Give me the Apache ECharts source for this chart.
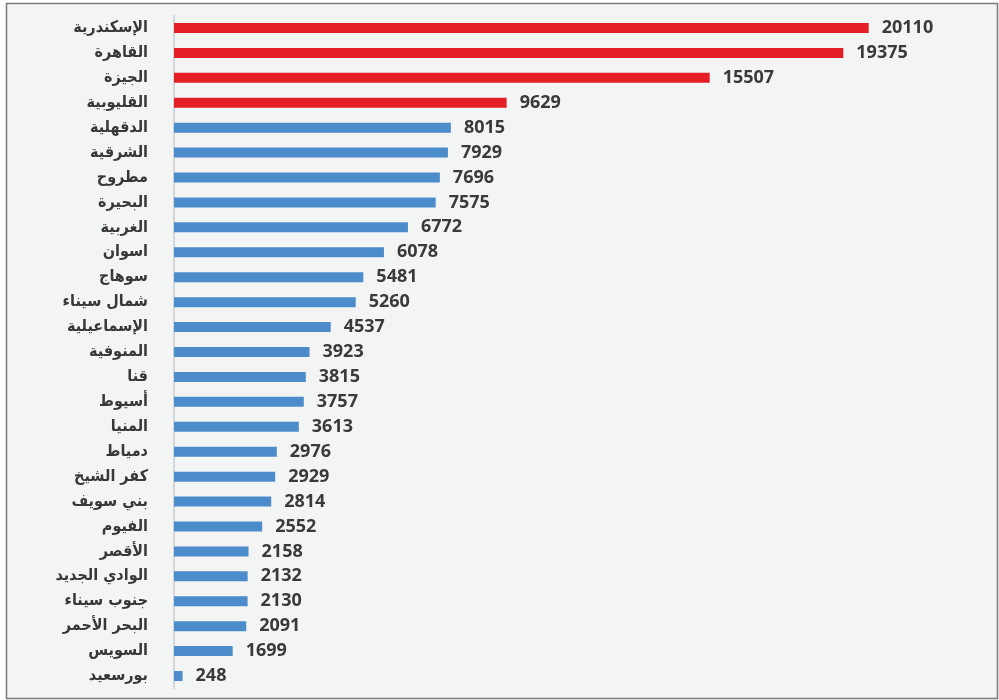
<!DOCTYPE html>
<html>
<head>
<meta charset="utf-8">
<script src="https://cdn.jsdelivr.net/npm/echarts@6/dist/echarts.min.js"></script>
<style>
  html, body { margin: 0; padding: 0; background: #ffffff; }
  #chart { width: 999px; height: 700px; }
</style>
</head>
<body>
<div id="chart"></div>
<script>
// Governorates, top to bottom
const governorates = [
  'الإسكندرية', 'القاهرة', 'الجيزة', 'القليوبية', 'الدقهلية', 'الشرقية', 'مطروح',
  'البحيرة', 'الغربية', 'اسوان', 'سوهاج', 'شمال سيناء', 'الإسماعيلية', 'المنوفية',
  'قنا', 'أسيوط', 'المنيا', 'دمياط', 'كفر الشيخ', 'بني سويف', 'الفيوم', 'الأقصر',
  'الوادي الجديد', 'جنوب سيناء', 'البحر الأحمر', 'السويس', 'بورسعيد'
];
const counts = [
  20110, 19375, 15507, 9629, 8015, 7929, 7696,
  7575, 6772, 6078, 5481, 5260, 4537, 3923,
  3815, 3757, 3613, 2976, 2929, 2814, 2552, 2158,
  2132, 2130, 2091, 1699, 248
];
// Number of leading governorates highlighted in red
const highlightCount = 4;

const RED = '#e31e24';
const BLUE = '#4d8ccb';

const chart = echarts.init(document.getElementById('chart'), null, { renderer: 'canvas' });

chart.setOption({
  backgroundColor: '#ffffff',
  animation: false,
  graphic: [{
    type: 'rect',
    z: -10,
    shape: { x: 6.5, y: 3.5, width: 991, height: 695 },
    style: { fill: '#f3f4f4', stroke: '#7a7a7a', lineWidth: 1.5 }
  }],
  grid: { left: 174, right: 65, top: 15.5, bottom: 11.5, containLabel: false },
  xAxis: {
    type: 'value',
    min: 0,
    max: 22000,
    show: false
  },
  yAxis: {
    type: 'category',
    inverse: true,
    data: governorates,
    axisLine: { show: true, lineStyle: { color: '#c9ced3', width: 1.5 } },
    axisTick: { show: false },
    axisLabel: {
      margin: 26,
      color: '#383838',
      fontFamily: 'DejaVu Sans Condensed, DejaVu Sans',
      fontWeight: 'bold',
      fontSize: 16
    }
  },
  series: [{
    type: 'bar',
    barWidth: 10,
    data: counts.map((v, i) => ({
      value: v,
      itemStyle: { color: i < highlightCount ? RED : BLUE }
    })),
    label: {
      show: true,
      position: 'right',
      distance: 13,
      color: '#3a3a3a',
      fontFamily: 'Open Sans',
      fontWeight: 'bold',
      fontSize: 18
    }
  }]
});
</script>
</body>
</html>
